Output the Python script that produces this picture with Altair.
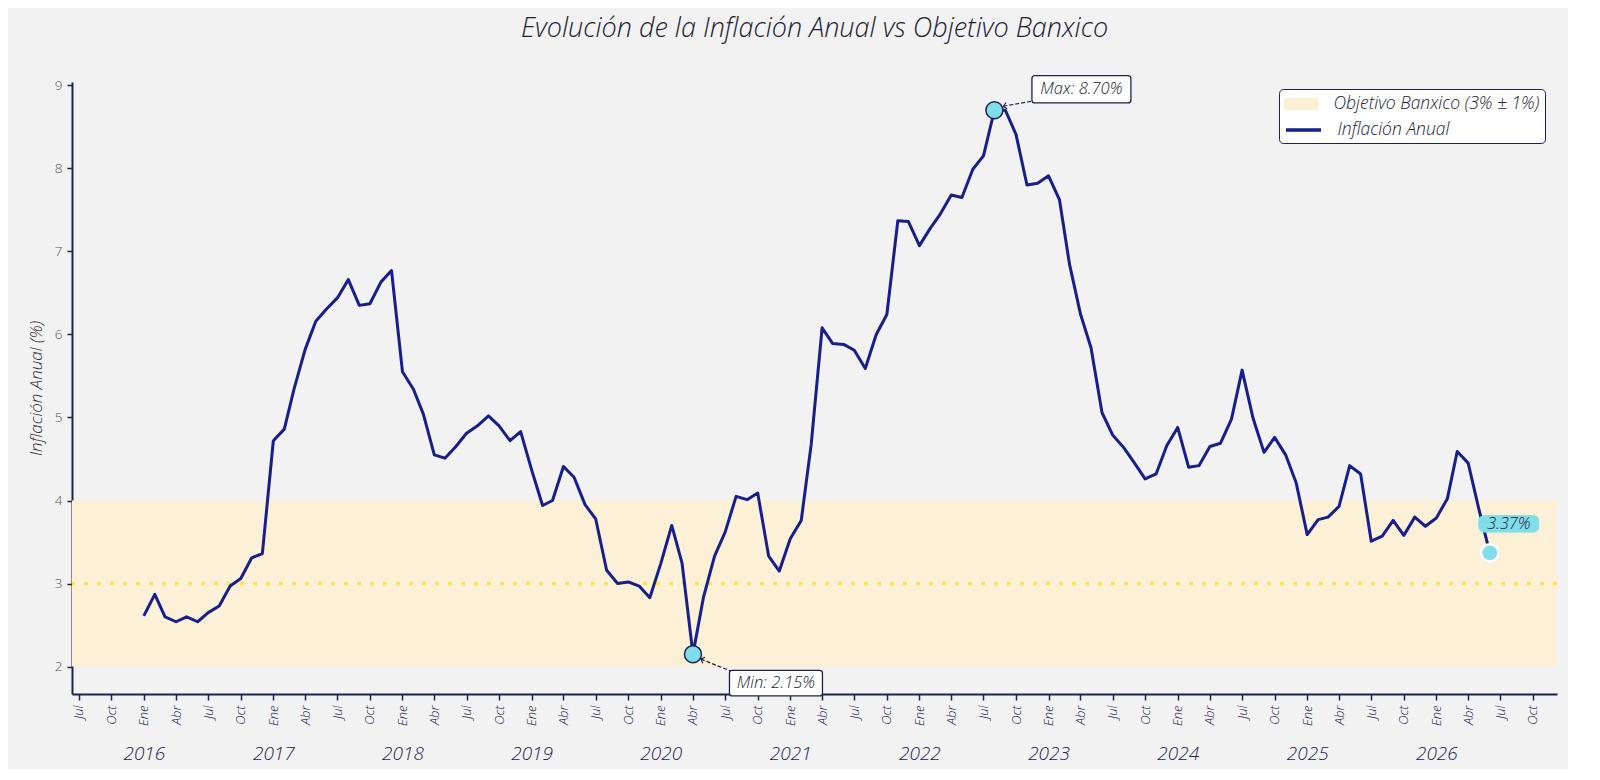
import altair as alt
import pandas as pd
import numpy as np

# ---------------- data ----------------
infl_2016 = [2.61, 2.87, 2.60, 2.54, 2.60, 2.54, 2.65, 2.73, 2.97, 3.06, 3.31, 3.36]
infl_2017 = [4.72, 4.86, 5.35, 5.82, 6.16, 6.31, 6.44, 6.66, 6.35, 6.37, 6.63, 6.77]
infl_2018 = [5.55, 5.34, 5.04, 4.55, 4.51, 4.65, 4.81, 4.90, 5.02, 4.90, 4.72, 4.83]
infl_2019 = [4.37, 3.94, 4.00, 4.41, 4.28, 3.95, 3.78, 3.16, 3.00, 3.02, 2.97, 2.83]
infl_2020 = [3.24, 3.70, 3.25, 2.15, 2.84, 3.33, 3.62, 4.05, 4.01, 4.09, 3.33, 3.15]
infl_2021 = [3.54, 3.76, 4.67, 6.08, 5.89, 5.88, 5.81, 5.59, 6.00, 6.24, 7.37, 7.36]
infl_2022 = [7.07, 7.28, 7.45, 7.68, 7.65, 7.99, 8.15, 8.70, 8.70, 8.41, 7.80, 7.82]
infl_2023 = [7.91, 7.62, 6.85, 6.25, 5.84, 5.06, 4.79, 4.64, 4.45, 4.26, 4.32, 4.66]
infl_2024 = [4.88, 4.40, 4.42, 4.65, 4.69, 4.98, 5.57, 4.99, 4.58, 4.76, 4.55, 4.21]
infl_2025 = [3.59, 3.77, 3.80, 3.93, 4.42, 4.32, 3.51, 3.57, 3.76, 3.58, 3.80, 3.69]
infl_2026 = [3.79, 4.02, 4.59, 4.45, 3.90, 3.37]

valores = (infl_2016 + infl_2017 + infl_2018 + infl_2019 + infl_2020 + infl_2021
           + infl_2022 + infl_2023 + infl_2024 + infl_2025 + infl_2026)
fecha_inicio = "2016-01-01"
fechas = pd.date_range(fecha_inicio, periods=len(valores), freq="MS").strftime("%Y-%m-%d").tolist()

serie_linea = "Inflación Anual"
serie_banda = "Objetivo Banxico (3% ± 1%)"
objetivo = 3.0
banda_inf = 2.0
banda_sup = 4.0

ticks_trimestre = pd.date_range("2015-07-01", "2026-10-01", freq="QS-JAN")
ticks_anio = pd.date_range("2016-01-01", "2026-01-01", freq="YS")
y_ticks = [2, 3, 4, 5, 6, 7, 8, 9]

# ---------------- tables ----------------
df = pd.DataFrame({"fecha": fechas, "valor": valores, "serie": serie_linea})
band_df = pd.DataFrame({"valor": [banda_inf], "hi": [banda_sup], "serie": [serie_banda]})
meta_df = pd.DataFrame({"valor": [objetivo]})

imax = int(np.argmax(valores))
imin = int(np.argmin(valores))
ilast = len(valores) - 1
max_df = pd.DataFrame({"fecha": [fechas[imax]], "valor": [valores[imax]],
                       "texto": [f"Max: {valores[imax]:.2f}%"]})
min_df = pd.DataFrame({"fecha": [fechas[imin]], "valor": [valores[imin]],
                       "texto": [f"Min: {valores[imin]:.2f}%"]})
last_df = pd.DataFrame({"fecha": [fechas[ilast]], "valor": [valores[ilast]],
                        "texto": [f"{valores[ilast]:.2f}%"]})

# ---------------- styles ----------------
FONT = "Open Sans"
W = 300
NAVY = "#161f8c"
AXIS = "#1f2251"
BAND = "#fcf0d6"
TARGET = "#fde34d"
CYAN = "#80deea"
TXT = "#222233"

def ms(ts):
    return int(pd.Timestamp(ts).tz_localize("UTC").timestamp() * 1000)

xscale = alt.Scale(type="utc", domain=[ms("2015-06-12"), ms("2026-12-08")])
yscale = alt.Scale(domain=[1.67, 9.04], nice=False, zero=False)
fill_scale = alt.Scale(domain=[serie_banda, " "], range=[BAND, "transparent"])
stroke_scale = alt.Scale(domain=[serie_linea], range=[NAVY])

month_axis = alt.Axis(
    orient="bottom",
    values=[ms(t) for t in ticks_trimestre],
    labelExpr="['Ene','Feb','Mar','Abr','May','Jun','Jul','Ago','Sep','Oct','Nov','Dic'][utcmonth(datum.value)]",
    labelAngle=270, labelFont=FONT, labelFontSize=13, labelFontStyle="italic",
    labelFontWeight=W, labelColor=AXIS, labelPadding=5, tickSize=6, tickWidth=1.5,
    tickColor=AXIS, domainColor=AXIS, domainWidth=2, grid=False, title=None,
    labelOverlap=False,
)
year_axis = alt.Axis(
    orient="bottom",
    values=[ms(t) for t in ticks_anio],
    labelExpr="'' + utcyear(datum.value)",
    labelAngle=0, labelFont=FONT, labelFontSize=19, labelFontStyle="italic",
    labelFontWeight=W, labelColor=AXIS, labelPadding=50, ticks=False, domain=False,
    grid=False, title=None, labelOverlap=False,
)
y_axis = alt.Axis(
    values=y_ticks, labelFont=FONT, labelFontSize=13.5, labelFontWeight=W,
    labelColor="#555555", labelPadding=5, tickSize=5, tickWidth=1.5, tickColor=AXIS,
    domainColor=AXIS, domainWidth=2, grid=False, title="Inflación Anual (%)",
    titleFont=FONT, titleFontSize=17, titleFontStyle="italic", titleFontWeight=W,
    titleColor="#333333", titlePadding=9,
)

# legend: symbol size 20 (sqrt of 400) with 35px-wide custom swatches
LEG_X, LEG_Y, LEG_PAD = 1207, 7, 5
LEG_FS = 17.5
legend_band = alt.Legend(
    title=None, orient="none", legendX=LEG_X, legendY=LEG_Y,
    padding=LEG_PAD, fillColor="white", strokeColor=AXIS, cornerRadius=4,
    labelFont=FONT, labelFontSize=LEG_FS, labelFontStyle="italic", labelFontWeight=W,
    labelColor=TXT, labelOffset=22, labelLimit=400, symbolSize=400, symbolOffset=7.5,
    symbolType="M-1.75,-0.63H1.75V0.63H-1.75Z", symbolStrokeWidth=0,
)
legend_line = alt.Legend(
    title=None, orient="none", legendX=LEG_X + LEG_PAD, legendY=LEG_Y + 29,
    padding=0,
    labelFont=FONT, labelFontSize=LEG_FS, labelFontStyle="italic", labelFontWeight=W,
    labelColor=TXT, labelOffset=22, labelLimit=400, symbolSize=400, symbolOffset=7.5,
    symbolType="M-1.75,0H1.75", symbolStrokeWidth=3.5,
)

X = lambda ax=None: alt.X("fecha:T", scale=xscale, axis=ax)
Y = alt.Y("valor:Q", scale=yscale, axis=y_axis)

band = alt.Chart(band_df).mark_rect(opacity=1).encode(
    y=Y, y2="hi:Q",
    fill=alt.Fill("serie:N", scale=fill_scale, legend=legend_band),
)
target = alt.Chart(meta_df).mark_rule(color=TARGET, strokeWidth=3.5, strokeDash=[4, 9]).encode(
    y=Y,
)
line = alt.Chart(df).mark_line(strokeWidth=3, strokeJoin="round").encode(
    x=X(month_axis), y=Y,
    stroke=alt.Stroke("serie:N", scale=stroke_scale, legend=legend_line),
)
years = alt.Chart(df).mark_point(opacity=0).encode(x=X(year_axis), y=Y)

conn_max = alt.Chart(max_df).mark_rule(color=AXIS, strokeWidth=1.2, strokeDash=[4, 2],
                                        xOffset=9, yOffset=-4, x2Offset=37, y2Offset=-9).encode(
    x=X(), y=Y, x2="fecha:T", y2="valor:Q")
conn_min = alt.Chart(min_df).mark_rule(color=AXIS, strokeWidth=1.2, strokeDash=[4, 2],
                                        xOffset=8, yOffset=5, x2Offset=38, y2Offset=17).encode(
    x=X(), y=Y, x2="fecha:T", y2="valor:Q")
head_max = alt.Chart(max_df).mark_point(shape="M-1,1L0,0L1,1", size=40, angle=260, filled=False,
                                         stroke=AXIS, strokeWidth=1.2, opacity=1,
                                         xOffset=9, yOffset=-4).encode(x=X(), y=Y)
head_min = alt.Chart(min_df).mark_point(shape="M-1,1L0,0L1,1", size=40, angle=291, filled=False,
                                         stroke=AXIS, strokeWidth=1.2, opacity=1,
                                         xOffset=8, yOffset=5).encode(x=X(), y=Y)

ext_layers = []
for d in (max_df, min_df):
    ext_layers.append(
        alt.Chart(d).mark_point(filled=True, size=290, fill=CYAN, stroke=AXIS,
                                strokeWidth=1.5, opacity=1).encode(x=X(), y=Y))
last_pt = alt.Chart(last_df).mark_point(filled=True, size=300, fill=CYAN, stroke="white",
                                        strokeWidth=2.5, opacity=1).encode(x=X(), y=Y)

def box_path(r):
    h = 0.275
    return (f"M{-1 + r},{-h}H{1 - r}Q1,{-h} 1,{-h + r}V{h - r}Q1,{h} {1 - r},{h}"
            f"H{-1 + r}Q-1,{h} -1,{h - r}V{-h + r}Q-1,{-h} {-1 + r},{-h}Z")

box_max = alt.Chart(max_df).mark_point(shape=box_path(0.06), size=99 ** 2, filled=True,
                                        fill="white", stroke=AXIS, strokeWidth=1.3, opacity=1,
                                        xOffset=87, yOffset=-21).encode(x=X(), y=Y)
box_min = alt.Chart(min_df).mark_point(shape=box_path(0.06), size=93 ** 2, filled=True,
                                        fill="white", stroke=AXIS, strokeWidth=1.3, opacity=1,
                                        xOffset=83, yOffset=29).encode(x=X(), y=Y)
box_last = alt.Chart(last_df).mark_point(shape=box_path(0.2), size=60 ** 2, filled=True,
                                          fill=CYAN, stroke=CYAN, strokeWidth=1, opacity=1,
                                          xOffset=19, yOffset=-29).encode(x=X(), y=Y)

def label(d, dx, dy):
    return alt.Chart(d).mark_text(font=FONT, fontSize=16.5, fontStyle="italic",
                                  fontWeight=W, color=TXT, align="center", baseline="middle",
                                  xOffset=dx, yOffset=dy).encode(x=X(), y=Y, text="texto:N")

chart = alt.layer(
    band, target, line, years,
    conn_max, conn_min, head_max, head_min,
    *ext_layers, last_pt,
    box_max, box_min, box_last,
    label(max_df, 87, -21), label(min_df, 83, 29), label(last_df, 19, -29),
).resolve_axis(x="independent").properties(
    width=1485, height=612,
    autosize=alt.AutoSizeParams(type="none"),
    padding={"left": 64, "top": 74, "right": 11, "bottom": 75},
    title=alt.TitleParams(
        "Evolución de la Inflación Anual vs Objetivo Banxico",
        font=FONT, fontSize=27, fontStyle="italic", fontWeight=W, color=TXT,
        anchor="middle", offset=30,
    ),
).configure(background="#f2f2f2").configure_view(
    stroke="transparent", fill="#f2f2f2"
).configure_legend(rowPadding=6)

chart.save("out.html", embed_options={"renderer": "svg", "actions": False})
